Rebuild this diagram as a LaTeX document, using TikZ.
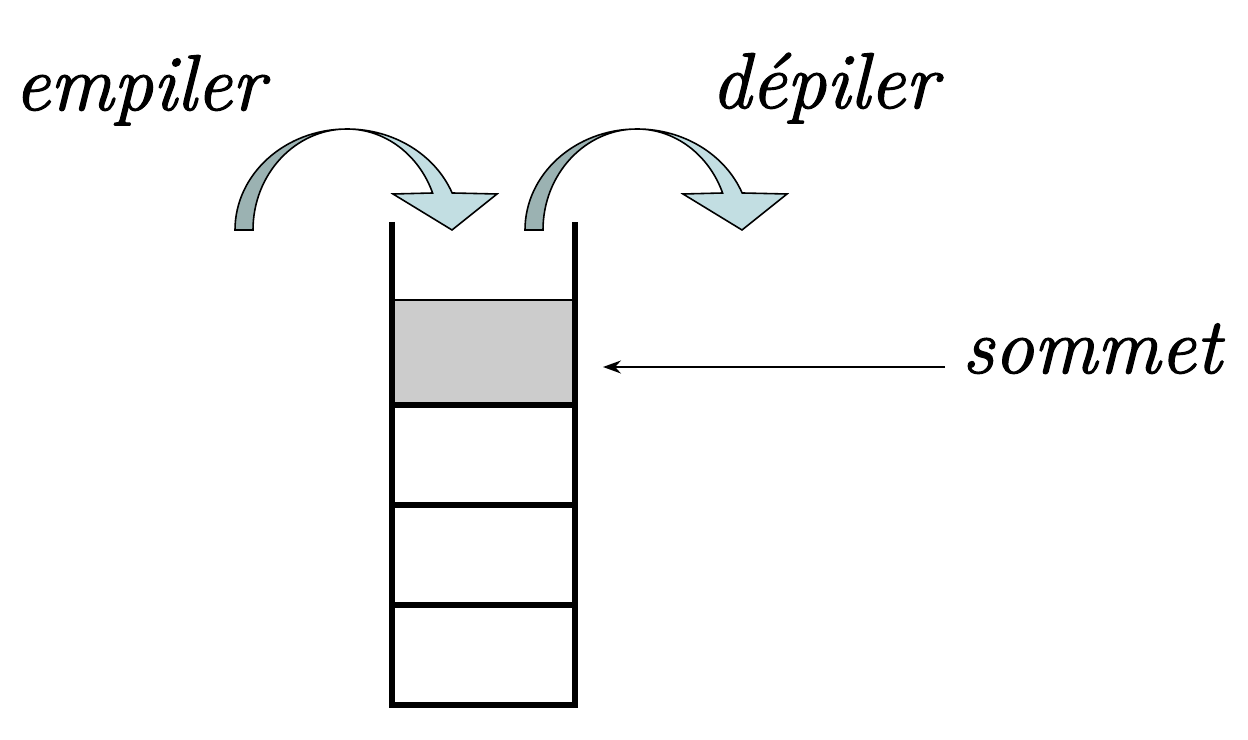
\documentclass[tikz,border=0pt]{standalone}
\usepackage{fontspec}
\setmainfont{Latin Modern Roman}[ItalicFeatures={FakeBold=1.6}]
\definecolor{bandback}{RGB}{155, 178, 178}
\definecolor{bandfront}{RGB}{194, 222, 226}
\definecolor{topgray}{RGB}{204, 204, 204}
\usetikzlibrary{arrows.meta, calc}
\tikzset{
    cell/.style={
        rectangle, draw=black, line width=2.9pt, outer sep=0pt, inner sep=0pt,
        minimum width=3.66cm, minimum height=2cm
    },
    topcell/.style={
        rectangle, draw=black, fill=topgray, line width=1.7pt, outer sep=0pt, inner sep=0pt,
        minimum width=3.7cm, minimum height=2.1cm
    },
    wall/.style={line width=2.9pt, line join=miter},
    backband/.style={fill=bandback, draw=black, line width=0.9pt},
    frontband/.style={fill=bandfront, draw=black, line width=0.9pt, line join=miter},
    word/.style={font=\fontsize{45}{54}\selectfont\itshape, inner sep=0pt, anchor=base west},
    pointer/.style={-{Stealth[length=0.36cm, width=0.26cm]}, line width=0.9pt}
}
\begin{document}
\begin{tikzpicture}[x=0.02cm, y=0.02cm]
    \useasboundingbox (0,0) rectangle (1248,740);

    % Stack cells
    \node[topcell] (top) at (484.5,387.5) {};
    \foreach \i/\y in {1/285, 2/185, 3/85}
        \node[cell] (c\i) at (483.5,\y) {};

    % Open walls of the stack
    \coordinate (lt) at (392,518);
    \coordinate (rt) at (575,518);
    \draw[wall] (lt) |- (c3.south) -| (rt);

    % Curved arrows
    \foreach \dx in {0,290} {
        \begin{scope}[shift={(\dx,0)}]
            \draw[backband] (235,510) arc[start angle=180, end angle=90, x radius=112, y radius=101]
                arc[start angle=90, end angle=180, x radius=94, y radius=101] -- cycle;
            \draw[frontband] (347,611) arc[start angle=90, end angle=21.5, x radius=113, y radius=101]
                -- (497,546) -- (452,510) -- (393,546) -- (432.6,547)
                arc[start angle=21.5, end angle=90, x radius=92, y radius=101] -- cycle;
        \end{scope}
    }

    % Labels
    \node[word] (push) at (14,630) {empiler};
    \node[word] (pop) at (711,632) {dépiler};
    \node[word] (sommet) at (962,367) {sommet};

    % Pointer to the top cell
    \coordinate (tail) at (945,373);
    \draw[pointer, shorten >=0.52cm] (tail) -- (tail -| top.east);

\end{tikzpicture}
\end{document}
